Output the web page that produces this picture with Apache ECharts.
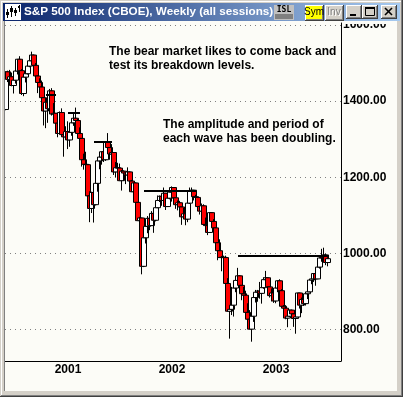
<!DOCTYPE html>
<html><head><meta charset="utf-8">
<script src="https://cdn.jsdelivr.net/npm/echarts@6/dist/echarts.min.js"></script>
<style>html,body{margin:0;padding:0;background:#D4D0C8;overflow:hidden}#c{width:403px;height:397px}</style>
</head><body><div id="c"></div>
<script>
// ---- data ----
const firstWeek = '2000-06-02';   // week ending date of first candle
const weekCount = 168;            // weekly slots on the time axis (last 6 are empty)
const open = [
 1378,1477,1457,1464,1441,1455,1479,1510,1480,1420,1463,1472,1492,1506,1521,1494,1466,1449,1437,1409,1374,1397,1380,1427,1366,1368,1342,1315,1370,1312,1306,
 1320,1298,1318,1343,1355,1349,1315,1302,1246,1234,1233,1151,1118,1160,1128,1184,1243,1253,1267,1246,1292,1278,1261,1265,1214,1225,1224,1191,1216,1211,1206,1214,1190,1162,1185,1134,1086,1093,966,1041,1071,1092,1073,1105,1087,1120,1139,1150,1139,1158,1123,1145,
 1161,1173,1146,1128,1133,1122,1096,1104,1090,1132,1164,1166,1149,1147,1123,1111,1125,1076,1073,1055,1107,1084,1067,1028,1007,989,990,989,921,848,853,864,909,929,941,916,894,890,845,827,801,835,884,898,901,895,910,931,936,912,889,896,
 875,909,928,902,861,856,830,835,851,841,829,833,896,864,879,868,894,899,930,933,947,933,964,988,989,996,976
];
const high = [
 1478,1480,1482,1475,1459,1479,1510,1518,1484,1463,1475,1497,1509,1530,1522,1500,1467,1460,1454,1409,1408,1397,1432,1434,1395,1368,1356,1373,1381,1315,1334,
 1347,1320,1354,1369,1383,1354,1331,1302,1262,1267,1233,1163,1162,1164,1184,1253,1253,1267,1268,1292,1316,1278,1287,1265,1240,1238,1236,1219,1218,1212,1226,1215,1193,1185,1186,1135,1096,1093,1041,1073,1098,1094,1111,1105,1124,1152,1152,1151,1173,1158,1147,1164,
 1176,1173,1146,1139,1138,1122,1120,1107,1132,1173,1173,1166,1154,1147,1124,1131,1129,1094,1082,1107,1107,1090,1067,1028,1037,993,994,994,935,853,912,909,935,962,942,916,912,902,869,851,836,885,904,904,925,910,937,954,936,912,908,902,
 912,929,932,906,864,864,835,852,852,842,834,896,896,884,887,894,911,931,937,948,947,965,991,1012,1015,999,990
];
const low = [
 1376,1450,1444,1439,1420,1446,1470,1478,1416,1413,1449,1470,1489,1500,1492,1464,1421,1427,1402,1336,1329,1343,1380,1362,1343,1330,1305,1315,1310,1254,1300,
 1274,1280,1309,1335,1340,1313,1294,1228,1220,1219,1148,1082,1106,1081,1126,1162,1221,1233,1240,1243,1276,1246,1254,1206,1200,1204,1190,1165,1190,1182,1200,1175,1161,1153,1132,1085,1074,945,964,1026,1053,1061,1073,1054,1084,1119,1135,1125,1136,1114,1123,1142,
 1136,1140,1117,1113,1100,1075,1094,1074,1082,1130,1150,1139,1131,1119,1102,1105,1074,1063,1048,1055,1080,1064,1012,982,989,953,947,918,846,776,838,834,898,918,912,877,872,842,818,800,768,820,871,873,881,868,907,929,901,884,874,870,
 869,898,899,859,838,827,806,832,829,807,789,833,855,843,862,863,880,898,919,925,915,933,960,978,985,969,966
];
const close = [
 1477,1457,1464,1441,1455,1479,1510,1480,1420,1463,1472,1492,1506,1521,1494,1466,1449,1437,1409,1374,1397,1380,1427,1366,1368,1342,1315,1370,1312,1306,1320,
 1298,1318,1343,1355,1349,1315,1302,1246,1234,1233,1151,1118,1160,1128,1184,1243,1253,1267,1246,1292,1278,1261,1265,1214,1225,1224,1191,1216,1211,1206,1214,1190,1162,1185,1134,1086,1093,966,1041,1071,1092,1073,1105,1087,1120,1139,1150,1139,1158,1123,1145,1161,
 1173,1146,1128,1133,1122,1096,1104,1090,1132,1164,1166,1149,1147,1123,1111,1125,1076,1073,1055,1107,1084,1067,1028,1007,989,990,989,921,848,853,864,909,929,941,916,894,890,845,827,801,835,884,898,901,895,910,931,936,912,889,896,875,
 909,928,902,861,856,830,835,851,841,829,833,896,864,879,868,894,899,930,933,947,933,964,988,989,996,976,986
];
const lastPrice = 985.70;
const yTicks = [800, 1000, 1200, 1400, 1600];
const yearLabels = ['2001', '2002', '2003'];
// breakdown levels: start week index, end week index, price
const levelStart = [20, 31, 44, 69, 116];
const levelEnd   = [25, 37, 53, 95, 161];
const levelPrice = [1416, 1370, 1293, 1165, 995];
const note1 = 'The bear market likes to come back and\ntest its breakdown levels.';
const note2 = 'The amplitude and period of\neach wave has been doubling.';
const titleText = 'S&P 500 Index (CBOE), Weekly (all sessions)';

// ---- build ----
const weeks = [];
const t0 = Date.parse(firstWeek + 'T00:00:00Z');
for (let i = 0; i < weekCount; i++) weeks.push(new Date(t0 + i * 7 * 86400000).toISOString().slice(0, 10));
const yearStart = [];
for (let i = 1; i < weeks.length; i++) {
  const y = weeks[i].slice(0, 4);
  if (y !== weeks[i - 1].slice(0, 4) && yearLabels.includes(y)) yearStart.push(i);
}
const candles = open.map((o, i) => [o, close[i], low[i], high[i]]);
const FONT = 'Liberation Sans';

const levelLines = levelPrice.map((v, k) => [{coord: [levelStart[k], v]}, {coord: [levelEnd[k], v]}]);

let zc = 100;
const G = [];
function rect(x, y, w, h, fill) { G.push({type: 'rect', silent: true, z: zc++, shape: {x, y, width: w, height: h}, style: {fill}}); }
function text(x, y, t, font, fill, align, valign, extra) {
  G.push({type: 'text', silent: true, z: zc++, style: Object.assign({x, y, text: t, font, fill, align: align || 'left', verticalAlign: valign || 'middle'}, extra || {})});
}
function button(x, y, w, h, face) {
  rect(x, y, w, h, '#404040');
  rect(x, y, w - 1, h - 1, '#FFFFFF');
  rect(x + 1, y + 1, w - 2, h - 2, '#808080');
  rect(x + 1, y + 1, w - 3, h - 3, face);
}
// chart client area (below everything)
G.push({type: 'rect', silent: true, z: -10, shape: {x: 5, y: 21, width: 392, height: 370}, style: {fill: '#FCFCF7'}});
// clip the top of the 1600 label like the reference
rect(342, 21, 55, 3, '#FCFCF7');
// window frame
rect(0, 0, 403, 21, '#D4D0C8');
rect(0, 0, 5, 397, '#D4D0C8');
rect(397, 0, 6, 397, '#D4D0C8');
rect(0, 391, 403, 6, '#D4D0C8');
rect(1, 1, 400, 1, '#FFFFFF');
rect(1, 1, 1, 394, '#FFFFFF');
rect(401, 0, 1, 396, '#808080');
rect(402, 0, 1, 397, '#404040');
rect(1, 395, 401, 1, '#808080');
rect(0, 396, 403, 1, '#404040');
rect(4, 21, 1, 370, '#808080');
// title bar
G.push({type: 'rect', silent: true, z: zc++, shape: {x: 3, y: 3, width: 397, height: 18},
  style: {fill: new echarts.graphic.LinearGradient(0, 0, 1, 0, [{offset: 0, color: '#0A246A'}, {offset: 1, color: '#A6CAF0'}])}});
// icon
rect(5, 4, 16, 16, '#FFFFFF');
rect(7, 9, 1, 9, '#000'); rect(6, 12, 3, 3, '#000');
rect(11, 6, 1, 11, '#000'); rect(10, 8, 3, 4, '#000');
rect(15, 8, 1, 8, '#000'); rect(14, 10, 3, 3, '#000');
rect(19, 5, 1, 7, '#000'); rect(18, 6, 2, 2, '#000');
text(24, 12, titleText, 'bold 11.7px "' + FONT + '"', '#FFFFFF');
// ISL
rect(274, 5, 20, 15, '#C0C0C0');
text(284, 9.5, 'ISL', 'bold 8px "DejaVu Sans Mono"', '#000', 'center');
rect(275, 14, 18, 5, '#808080');
// Sym / Inv
button(305, 5, 19, 16, '#FFFF00');
text(314, 12.5, 'Sym', '10px "' + FONT + '"', '#000', 'center');
button(325, 5, 19, 16, '#D4D0C8');
text(335, 13.5, 'Inv', '10px "' + FONT + '"', '#FFFFFF', 'center');
text(334, 12.5, 'Inv', '10px "' + FONT + '"', '#808080', 'center');
// min / max / close
button(346, 5, 16, 14, '#D4D0C8');
rect(350, 14, 6, 2, '#000');
button(362, 5, 16, 14, '#D4D0C8');
G.push({type: 'rect', silent: true, z: zc++, shape: {x: 365.5, y: 7.5, width: 9, height: 8}, style: {fill: null, stroke: '#000', lineWidth: 1}});
rect(365, 7, 10, 2, '#000');
button(381, 5, 16, 14, '#D4D0C8');
G.push({type: 'line', silent: true, z: zc++, shape: {x1: 385, y1: 8, x2: 392, y2: 15}, style: {stroke: '#000', lineWidth: 1.6}});
G.push({type: 'line', silent: true, z: zc++, shape: {x1: 392, y1: 8, x2: 385, y2: 15}, style: {stroke: '#000', lineWidth: 1.6}});
// notes inside plot
G.push({type: 'text', silent: true, z: 50, style: {x: 109, y: 45, text: note1, font: 'bold 12px "' + FONT + '"', fill: '#000', lineHeight: 14, verticalAlign: 'top'}});
G.push({type: 'text', silent: true, z: 50, style: {x: 163, y: 118, text: note2, font: 'bold 12px "' + FONT + '"', fill: '#000', lineHeight: 14, verticalAlign: 'top'}});

const chart = echarts.init(document.getElementById('c'), null, {renderer: 'canvas'});
chart.setOption({
  animation: false,
  backgroundColor: '#D4D0C8',
  grid: {left: 5, top: 23, width: 336, height: 338, containLabel: false, outerBoundsMode: 'none'},
  xAxis: {
    type: 'category', data: weeks, boundaryGap: true,
    axisLine: {show: true, onZero: false, lineStyle: {color: '#000', width: 1}},
    axisTick: {show: false}, splitLine: {show: false},
    axisLabel: {
      interval: (i) => yearStart.includes(i),
      formatter: (v) => v.slice(0, 4),
      margin: 3, color: '#000', fontFamily: FONT, fontWeight: 'bold', fontSize: 12, lineHeight: 12
    }
  },
  yAxis: {
    type: 'value', position: 'right', min: 717.3, max: 1605.2, minInterval: 200, maxInterval: 200,
    axisLine: {show: true, onZero: false, lineStyle: {color: '#000', width: 1}},
    axisTick: {show: false},
    splitLine: {show: true, showMinLine: false, showMaxLine: false, lineStyle: {color: '#808080', width: 1, type: [1, 4]}},
    axisLabel: {
      margin: 2, showMinLabel: false, showMaxLabel: false, color: '#000', fontFamily: FONT, fontWeight: 'bold', fontSize: 12,
      formatter: (v) => yTicks.includes(Math.round(v)) && Math.abs(v - Math.round(v)) < 1e-6 ? v.toFixed(2) : ''
    }
  },
  series: [{
    type: 'candlestick', data: candles, barWidth: 5,
    itemStyle: {color: '#FFFFFF', color0: '#FF0000', borderColor: '#000000', borderColor0: '#000000', borderColorDoji: '#000000', borderWidth: 1},
    emphasis: {disabled: true},
    markLine: {
      silent: true, animation: false, symbol: ['none', 'none'], z: 5,
      label: {show: false},
      emphasis: {disabled: true},
      lineStyle: {color: '#000', width: 2, type: 'solid'},
      data: levelLines.concat([{
        yAxis: lastPrice, lineStyle: {opacity: 0},
        label: {show: true, position: 'end', distance: 1, formatter: lastPrice.toFixed(2), color: '#FFFFFF', backgroundColor: '#000000',
          fontFamily: FONT, fontWeight: 'bold', fontSize: 12, lineHeight: 12, padding: [1, 1, 0, 1]}
      }])
    }
  }],
  graphic: {elements: G}
});
</script></body></html>
